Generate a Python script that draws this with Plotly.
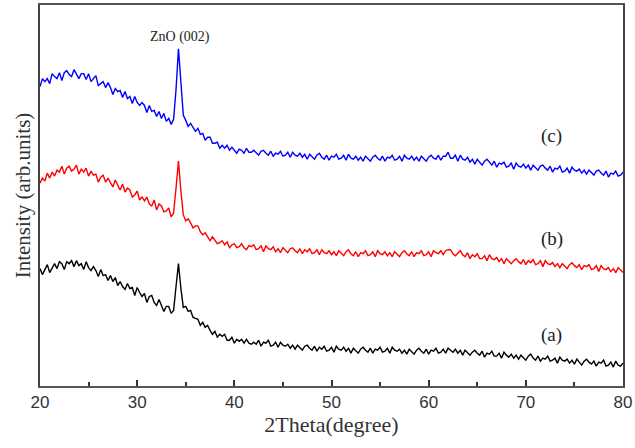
import numpy as np
import plotly.graph_objects as go

# 2theta positions (degree), step 0.25
two_theta = np.arange(20, 80.001, 0.25)

# (c) blue
intensity_c = [
    301, 309, 306, 309, 304, 314, 311, 309, 315, 307, 315, 317, 313, 311, 318, 313,
    309, 314, 314, 308, 314, 306, 309, 312, 302, 304, 306, 300, 305, 300, 293, 299,
    296, 297, 290, 296, 289, 291, 284, 291, 285, 282, 285, 282, 275, 282, 276, 277,
    271, 276, 269, 274, 266, 269, 263, 268,
    298, 339, 300, 272,
    267, 261, 264, 260, 256, 259, 253, 254, 247, 250, 250, 244, 244, 245, 239, 242,
    239, 242, 237, 240, 237, 234, 238, 237, 234, 239, 235, 235,
    237, 234, 232, 236, 237, 234, 232, 236, 231, 234, 233, 236, 231, 232, 235, 230,
    235, 232, 231, 234, 230, 233, 228, 233, 230, 228, 232, 234, 230, 228, 232, 227,
    231, 230, 233, 228, 229, 232, 227, 233, 229, 228, 231, 227, 230, 226, 231, 228,
    226, 230, 232, 229, 227, 231, 226, 230, 229, 232, 227, 228, 231, 226, 232, 229,
    228, 231, 227, 230, 226, 231, 228, 226, 230, 232, 229, 228, 232, 227, 231, 231,
    235, 229, 229, 232, 226, 232, 228, 227, 230, 225, 228, 223, 228, 225, 222, 226,
    228, 225, 222, 226, 220, 224, 223, 225, 220, 221, 224, 218, 224, 221, 220, 223,
    219, 222, 217, 222, 219, 217, 221, 222, 219, 217, 221, 215, 219, 218, 221, 215,
    216, 219, 214, 220, 217, 216, 218, 214, 217, 213, 217, 214, 212, 216, 217, 214,
    212, 216, 210, 214, 213, 216, 211, 212, 215,
]

# (b) red
intensity_b = [
    204, 209, 206, 214, 209, 215, 211, 217, 215, 221, 213, 219, 221, 216, 218, 222,
    213, 218, 215, 219, 211, 216, 212, 213, 205, 210, 212, 205, 209, 204, 200, 207,
    202, 197, 203, 195, 199, 197, 190, 192, 196, 187, 190, 186, 190, 183, 181, 187,
    177, 183, 181, 175, 176, 179, 170, 174,
    199, 226, 196, 172,
    166, 168, 164, 159, 161, 161, 155, 152, 154, 150, 146, 150, 147, 143, 144, 146,
    142, 145, 139, 142, 143, 139, 140, 143, 139, 137, 141, 140,
    142, 137, 138, 141, 135, 141, 138, 137, 140, 135, 138, 134, 139, 136, 134, 138,
    139, 136, 134, 138, 133, 137, 135, 138, 133, 134, 137, 132, 137, 134, 133, 136,
    132, 135, 131, 136, 133, 131, 135, 137, 133, 131, 135, 130, 134, 133, 136, 131,
    132, 135, 130, 136, 133, 132, 135, 131, 134, 130, 135, 132, 130, 134, 136, 133,
    131, 135, 130, 134, 133, 136, 131, 132, 135, 130, 136, 134, 133, 136, 132, 136,
    137, 137, 133, 131, 134, 136, 132, 130, 134, 128, 132, 130, 133, 128, 128, 131,
    126, 132, 128, 127, 129, 125, 128, 123, 128, 125, 123, 126, 128, 125, 123, 127,
    122, 126, 124, 127, 122, 123, 126, 120, 126, 123, 122, 124, 120, 123, 119, 123,
    120, 118, 122, 124, 121, 119, 122, 117, 121, 120, 122, 117, 118, 121, 115, 121,
    118, 117, 119, 115, 118, 114, 119, 116, 114,
]

# (a) black
intensity_a = [
    118, 112, 117, 122, 114, 118, 123, 118, 125, 123, 117, 125, 123, 126, 120, 126,
    121, 123, 117, 125, 119, 116, 120, 116, 110, 117, 111, 112, 106, 111, 105, 109,
    101, 105, 100, 97, 103, 98, 99, 91, 99, 94, 90, 93, 84, 90, 91, 84,
    81, 87, 81, 75, 80, 80, 73, 76,
    100, 123, 98, 79,
    80, 75, 76, 69, 68, 67, 61, 64, 59, 61, 56, 52, 55, 49, 52, 50,
    52, 46, 46, 49, 43, 47, 45, 47, 43, 47, 43, 42,
    44, 42, 46, 40, 44, 43, 46, 40, 41, 44, 39, 44, 41, 40, 42, 38,
    41, 37, 41, 38, 36, 40, 41, 38, 36, 40, 35, 39, 37, 40, 35, 36,
    39, 34, 40, 37, 36, 39, 35, 38, 33, 38, 35, 33, 37, 39, 36, 34,
    38, 33, 37, 36, 39, 34, 35, 38, 33, 39, 36, 35, 37, 33, 36, 32,
    37, 34, 32, 36, 38, 35, 33, 37, 32, 36, 35, 38, 33, 34, 37, 33,
    38, 36, 34, 37, 33, 36, 31, 36, 33, 31, 34, 36, 33, 31, 35, 29,
    33, 32, 35, 30, 30, 33, 28, 34, 31, 29, 32, 28, 31, 27, 31, 28,
    26, 30, 32, 28, 26, 30, 25, 28, 27, 30, 25, 26, 28, 23, 29, 26,
    25, 27, 23, 26, 22, 27, 24, 21, 25, 27, 24, 22, 25, 20, 24, 23,
    26, 20, 21, 24, 19, 25, 21, 20, 23,
]

series = [
    ("(a)", intensity_a, "#000000"),
    ("(b)", intensity_b, "#ff0000"),
    ("(c)", intensity_c, "#0000ff"),
]

labels_x = [72.6, 72.7, 72.6]
labels_y = [51, 148, 251]
labels_txt = ["(a)", "(b)", "(c)"]

peak_label = "ZnO (002)"
peak_x = 34.4
peak_y = 351

x_ticks = [20, 30, 40, 50, 60, 70, 80]

fig = go.Figure()
for name, vals, col in series:
    fig.add_trace(go.Scatter(x=two_theta, y=vals, mode="lines", name=name,
                             line=dict(color=col, width=1.4)))

serif = "Liberation Serif, Times New Roman, serif"
for tx, ty, tt in zip(labels_x, labels_y, labels_txt):
    fig.add_annotation(x=tx, y=ty, text=tt, showarrow=False,
                       font=dict(family=serif, size=19, color="#222"))
fig.add_annotation(x=peak_x, y=peak_y, text=peak_label, showarrow=False,
                   font=dict(family=serif, size=14, color="#222"))

fig.update_layout(
    width=635, height=448,
    margin=dict(l=40, r=11, t=3, b=62),
    paper_bgcolor="white", plot_bgcolor="white",
    showlegend=False,
    xaxis=dict(range=[20, 80], tickvals=x_ticks, ticks="inside", ticklen=6,
               tickwidth=1.5, tickcolor="#333", showgrid=False, zeroline=False,
               showline=True, linecolor="#555", linewidth=2, mirror=True,
               minor=dict(dtick=5, tick0=20, ticks="inside", ticklen=4,
                          tickwidth=1.5, tickcolor="#333", showgrid=False),
               tickfont=dict(family="Liberation Sans, Arial, sans-serif", size=17, color="#333"),
               title=dict(text="2Theta(degree)", standoff=2,
                          font=dict(family=serif, size=22, color="#333"))),
    yaxis=dict(range=[0, 383], showticklabels=False, ticks="", showgrid=False,
               zeroline=False, showline=True, linecolor="#444", linewidth=2, mirror=True,
               title=dict(text="Intensity (arb.units)", standoff=2,
                          font=dict(family=serif, size=21, color="#333"))),
)

fig.write_html("out.html")
